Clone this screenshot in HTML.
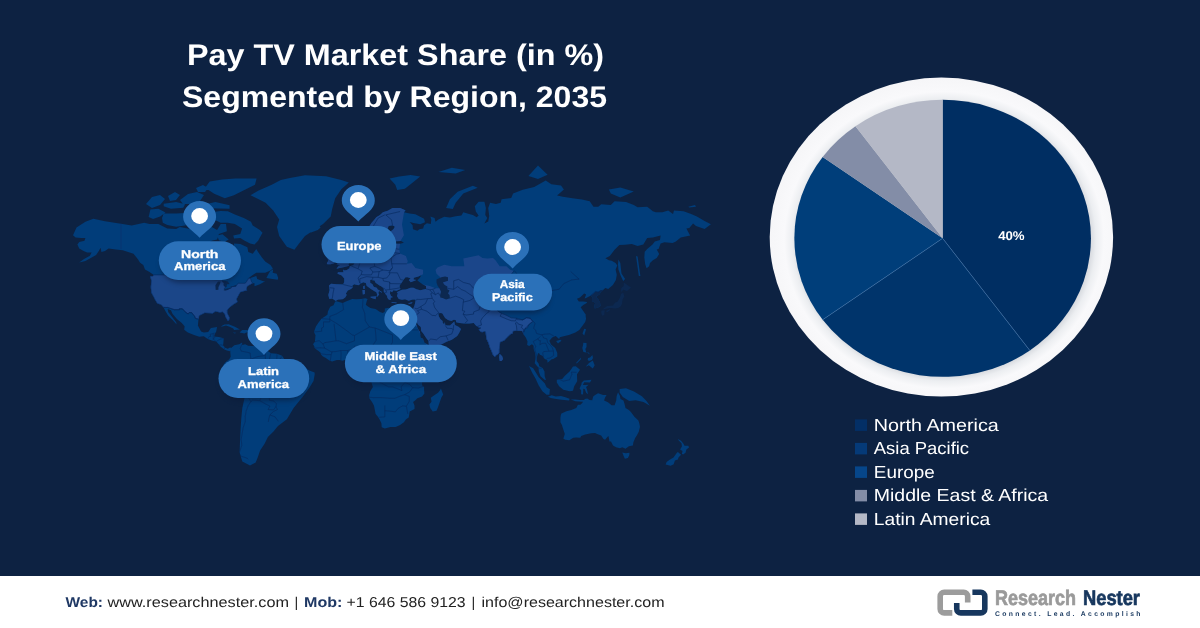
<!DOCTYPE html>
<html><head><meta charset="utf-8"><title>Pay TV Market Share</title>
<style>
html,body{margin:0;padding:0;background:#fff;}
body{width:1200px;height:628px;overflow:hidden;font-family:"Liberation Sans",sans-serif;}
svg{display:block;}
text{font-family:"Liberation Sans",sans-serif;text-rendering:geometricPrecision;}
svg{will-change:transform;}
</style></head><body>
<svg width="1200" height="628" viewBox="0 0 1200 628">
<defs>
<filter id="sh" color-interpolation-filters="sRGB" x="-20%" y="-30%" width="140%" height="180%"><feGaussianBlur stdDeviation="2.5"/></filter>
<filter id="blur1" color-interpolation-filters="sRGB"><feGaussianBlur stdDeviation="0.75"/></filter>
<radialGradient id="ring" cx="50.8%" cy="50.9%" r="50.6%">
<stop offset="0.83" stop-color="#cfd2d8"/><stop offset="0.875" stop-color="#eceef1"/><stop offset="0.92" stop-color="#f9f9fb"/><stop offset="1" stop-color="#f6f6f8"/>
</radialGradient>
</defs>
<rect x="0" y="0" width="1200" height="576" fill="#0d2242"/>
<rect x="0" y="576" width="1200" height="52" fill="#ffffff"/>
<clipPath id="landclip"><path d="M73.0,235.2 L76.5,227.6 L85.4,221.8 L93.4,218.8 L105.0,221.2 L121.0,223.8 L131.7,225.6 L144.2,222.7 L149.5,224.1 L158.4,224.1 L167.3,228.5 L176.2,229.0 L179.8,227.0 L190.4,229.0 L197.6,228.5 L201.1,229.9 L204.7,225.6 L202.9,218.1 L208.2,222.7 L211.8,227.0 L217.1,229.9 L220.7,224.1 L226.0,224.1 L226.9,231.3 L218.9,234.1 L217.1,239.4 L211.8,240.8 L206.5,244.6 L203.8,249.7 L203.8,252.9 L207.3,256.9 L215.4,258.1 L220.7,260.9 L225.5,261.6 L226.0,266.2 L227.8,268.4 L229.6,269.9 L231.4,269.5 L231.4,263.9 L234.9,259.3 L234.9,254.6 L233.2,249.7 L234.1,243.4 L240.3,243.9 L247.4,247.2 L248.3,252.1 L252.7,253.8 L256.3,248.9 L258.1,252.1 L261.6,256.9 L265.2,261.6 L270.5,265.0 L272.9,268.4 L270.5,270.6 L265.2,272.8 L256.3,272.8 L252.7,274.9 L247.4,279.1 L256.3,276.0 L257.2,279.1 L263.4,281.2 L265.2,281.2 L259.9,284.3 L254.5,286.3 L254.5,283.3 L252.7,283.3 L247.4,286.3 L246.5,289.3 L247.4,290.3 L243.8,291.3 L240.3,292.3 L237.6,297.2 L236.7,299.1 L237.6,301.9 L233.2,304.7 L229.6,307.5 L227.3,310.2 L227.3,313.0 L229.6,317.5 L229.1,320.5 L227.8,321.0 L225.2,316.6 L224.6,313.9 L222.5,312.1 L219.8,312.6 L215.4,311.5 L212.7,313.5 L210.0,313.3 L204.7,313.0 L199.3,315.7 L198.4,320.1 L197.9,325.4 L201.1,331.4 L203.8,332.6 L208.2,332.1 L210.9,328.0 L217.1,327.1 L216.2,331.4 L214.8,334.0 L214.1,336.6 L218.9,336.9 L223.7,338.3 L223.4,343.3 L223.0,345.3 L225.2,347.8 L227.8,348.7 L230.0,347.5 L234.1,348.8 L234.1,350.8 L232.3,349.2 L229.6,351.2 L226.9,350.5 L224.3,349.5 L220.7,346.7 L218.9,344.5 L216.2,341.6 L211.8,340.5 L207.7,338.9 L203.8,336.2 L199.3,336.7 L194.0,335.0 L187.8,332.6 L184.2,329.7 L184.6,326.3 L181.5,322.8 L177.1,319.2 L172.6,313.9 L170.9,310.2 L167.7,309.0 L168.2,312.1 L171.8,316.6 L176.2,322.2 L176.6,324.5 L172.6,320.1 L168.2,315.7 L165.5,311.2 L163.4,307.3 L161.1,304.7 L157.3,303.6 L154.8,299.4 L153.9,297.5 L151.3,292.7 L150.7,287.3 L151.3,280.8 L150.0,276.2 L153.1,276.0 L153.1,274.5 L149.5,272.1 L145.0,269.5 L143.3,265.0 L140.1,262.8 L137.9,259.3 L133.5,253.8 L128.1,252.1 L122.8,250.2 L115.7,249.4 L108.6,248.4 L105.0,250.9 L101.4,252.1 L100.6,247.7 L98.8,250.9 L96.1,255.0 L90.8,258.1 L85.4,260.9 L79.2,262.5 L83.6,259.3 L89.9,255.7 L91.6,252.6 L87.2,252.6 L83.6,250.9 L79.2,248.4 L77.4,244.6 L79.2,242.1 L84.5,240.8 L85.4,238.1 L81.0,238.1 L75.6,237.6Z M262.5,232.7 L258.1,240.8 L254.5,244.6 L250.1,243.4 L244.7,240.8 L240.3,238.1 L234.1,238.6 L233.2,235.4 L240.3,234.1 L242.1,228.5 L234.9,224.1 L227.8,222.7 L220.7,222.7 L214.5,219.7 L212.7,211.9 L220.7,210.9 L227.8,211.3 L234.9,214.4 L243.8,218.1 L251.0,221.8 L252.7,225.6 L259.9,229.9Z M162.0,218.1 L163.7,213.5 L176.2,213.5 L185.1,212.9 L191.3,222.7 L185.1,225.6 L176.2,226.8 L167.3,225.0 L162.8,222.7Z M148.6,216.9 L150.4,209.6 L158.4,208.7 L165.5,212.5 L160.2,216.6 L153.1,219.1Z M201.1,205.3 L215.4,201.9 L229.6,205.3 L229.6,208.7 L208.2,208.3Z M163.7,203.7 L176.2,201.9 L185.1,204.3 L183.3,207.7 L170.9,208.7 L163.7,206.3Z M186.9,201.9 L197.6,201.6 L199.3,207.0 L192.2,207.7Z M190.4,211.9 L199.3,210.9 L200.2,217.5 L194.0,218.1Z M201.1,210.3 L211.8,210.3 L210.0,215.1 L202.9,216.6Z M217.1,235.4 L222.5,234.3 L228.7,239.4 L224.3,242.1 L218.9,240.2Z M266.4,277.9 L272.3,279.1 L277.7,279.8 L278.2,277.9 L276.8,273.8 L272.7,272.8 L273.2,269.3 L270.0,271.2 L267.9,274.9Z M220.7,326.6 L224.3,324.5 L228.7,324.2 L234.9,326.8 L239.9,329.4 L234.1,329.9 L233.2,328.5 L229.6,326.8 L226.0,325.6 L222.5,326.4Z M239.6,332.5 L242.1,329.9 L247.4,330.1 L250.2,332.1 L246.5,332.6 L244.4,333.5Z M232.6,332.5 L236.2,332.8 L234.9,333.5Z M252.4,332.3 L255.2,332.5 L254.9,333.2 L252.4,333.2Z M230.3,348.8 L234.3,345.3 L239.2,344.2 L242.2,342.6 L242.2,345.0 L245.2,344.2 L248.2,345.8 L256.2,346.3 L261.2,345.5 L265.2,349.2 L271.1,353.3 L277.1,353.7 L282.1,355.8 L285.1,360.3 L285.1,363.3 L289.1,364.5 L296.1,367.4 L305.0,367.9 L310.0,370.8 L314.6,372.4 L314.7,374.6 L313.5,381.0 L309.2,388.0 L302.5,396.9 L293.6,408.0 L286.9,419.2 L278.0,425.9 L273.5,431.4 L267.9,437.0 L264.6,443.7 L260.1,450.4 L257.9,457.1 L255.7,462.6 L250.0,465.5 L242.3,461.5 L239.6,452.6 L240.0,441.5 L240.5,430.3 L241.2,419.2 L242.3,408.0 L244.5,398.0 L238.0,391.0 L232.3,385.8 L230.3,382.4 L227.3,376.6 L223.3,373.3 L222.7,370.4 L225.3,368.8 L223.3,365.0 L225.3,362.5 L227.3,360.8 L229.3,359.2 L230.7,356.7 L230.3,352.5 L230.3,350.8Z M329.3,298.9 L328.3,295.1 L329.6,290.0 L328.9,285.4 L331.2,283.8 L336.9,284.3 L343.1,284.5 L344.2,282.0 L344.2,278.5 L341.7,275.4 L337.5,273.7 L337.9,272.2 L343.4,272.2 L343.1,269.5 L344.6,270.5 L346.9,270.0 L349.4,268.3 L349.8,266.3 L353.2,265.3 L354.5,263.3 L355.7,261.2 L358.0,259.9 L360.3,259.4 L362.8,259.7 L363.2,257.3 L362.2,254.7 L362.2,250.7 L364.7,250.1 L366.6,248.8 L366.2,252.0 L365.6,254.7 L365.6,257.3 L367.6,258.6 L370.4,257.6 L373.3,258.6 L378.1,257.3 L381.9,256.6 L383.8,257.6 L386.7,256.0 L386.7,252.0 L387.7,249.3 L389.6,248.8 L392.5,250.7 L393.0,247.1 L391.5,244.6 L396.3,243.8 L400.1,243.8 L403.9,242.7 L401.1,241.0 L396.3,241.3 L390.5,242.7 L387.7,241.0 L387.3,236.6 L387.7,233.7 L393.4,229.2 L394.9,226.7 L392.5,225.2 L388.6,226.1 L387.3,229.8 L382.9,233.1 L379.6,238.1 L379.4,241.0 L382.5,243.0 L381.0,245.8 L378.5,248.5 L377.1,252.8 L374.3,253.4 L373.7,255.0 L371.4,255.0 L370.8,252.8 L369.1,249.3 L367.9,245.8 L366.6,243.8 L364.7,245.8 L361.8,247.7 L358.9,247.7 L357.0,245.2 L356.1,241.0 L356.1,236.6 L358.9,234.3 L362.8,232.2 L366.6,229.2 L369.5,226.1 L371.4,223.0 L374.3,219.8 L376.2,217.2 L380.0,214.9 L382.9,212.2 L387.7,210.8 L392.5,208.1 L396.3,208.1 L400.1,208.1 L405.9,210.5 L403.9,212.2 L409.7,213.5 L415.4,214.2 L424.1,218.8 L425.0,222.3 L420.2,224.2 L413.5,223.0 L409.7,222.0 L412.6,225.2 L413.0,229.2 L417.4,230.7 L419.3,229.2 L423.1,228.6 L424.1,225.2 L426.9,223.3 L430.8,223.9 L431.3,219.8 L430.4,216.5 L434.6,218.1 L435.5,221.7 L438.4,219.4 L444.2,216.8 L449.9,217.5 L455.7,216.2 L461.4,215.5 L463.3,212.2 L469.1,213.9 L472.9,214.9 L476.7,217.2 L478.6,215.5 L475.8,211.5 L474.8,206.3 L478.6,201.7 L484.4,201.7 L485.9,208.1 L485.3,214.9 L487.3,218.1 L484.4,223.6 L488.2,221.4 L489.2,215.9 L488.2,208.1 L490.1,202.8 L495.9,203.9 L500.7,202.8 L501.6,199.2 L511.2,198.1 L513.1,193.6 L522.7,189.8 L534.2,187.1 L545.7,180.4 L551.4,184.2 L561.0,185.4 L563.9,189.5 L557.1,195.5 L562.9,196.7 L572.5,198.2 L582.0,199.4 L589.7,201.3 L593.5,206.8 L598.3,206.8 L601.2,204.3 L610.8,205.0 L614.6,201.3 L626.1,202.0 L633.8,205.0 L637.6,207.2 L647.2,206.8 L652.9,211.2 L655.8,212.2 L662.5,212.2 L668.2,210.5 L673.0,214.0 L674.0,210.5 L683.5,211.2 L691.2,214.0 L696.9,216.4 L704.6,220.9 L710.9,224.2 L704.6,229.1 L696.0,225.9 L693.1,223.5 L689.3,228.1 L686.4,228.5 L689.3,233.9 L690.2,235.4 L680.7,237.6 L675.9,241.6 L672.6,243.1 L664.4,242.2 L660.6,243.4 L658.6,248.9 L656.7,249.5 L659.2,254.1 L656.7,258.0 L652.9,260.2 L650.0,262.9 L649.1,266.2 L646.6,268.3 L645.2,264.3 L644.3,257.5 L644.7,251.8 L647.2,248.9 L652.5,244.5 L654.8,241.6 L660.0,240.0 L660.6,235.4 L652.9,237.6 L647.2,237.9 L643.3,244.5 L637.6,246.0 L631.8,243.9 L625.1,244.8 L619.4,245.1 L614.6,249.8 L609.8,256.1 L605.4,258.3 L608.9,260.2 L611.7,260.8 L615.6,262.9 L617.3,265.6 L615.6,269.6 L616.8,274.8 L615.9,279.9 L612.9,284.9 L608.2,289.0 L605.3,288.0 L602.8,290.2 L600.9,292.1 L599.5,294.5 L596.7,296.2 L596.5,297.6 L598.2,299.2 L600.1,302.7 L600.5,306.1 L598.6,307.2 L594.7,308.6 L594.4,306.1 L595.1,302.7 L591.9,301.1 L592.3,296.9 L590.5,295.7 L586.1,298.0 L584.6,298.5 L586.1,294.5 L584.2,293.6 L580.0,297.6 L577.0,298.7 L578.8,301.5 L583.3,301.5 L587.1,302.0 L586.7,303.1 L583.3,305.0 L580.7,307.2 L582.9,310.6 L585.7,314.4 L585.7,316.6 L586.1,318.8 L585.2,322.1 L582.3,325.9 L579.3,330.0 L575.4,332.5 L568.9,334.9 L562.6,336.5 L559.8,337.2 L559.1,339.0 L555.7,336.1 L552.2,337.6 L549.4,340.7 L551.0,344.4 L555.2,347.9 L557.3,353.0 L557.3,356.5 L553.4,359.1 L551.7,359.3 L547.6,362.8 L547.2,360.1 L544.7,358.9 L542.4,355.7 L539.9,354.7 L539.0,353.0 L538.0,353.4 L536.7,357.7 L536.7,361.1 L538.6,363.6 L539.3,366.2 L541.4,367.2 L542.8,368.2 L544.5,371.6 L544.7,376.2 L546.0,380.1 L544.5,379.8 L540.5,376.2 L538.8,371.6 L538.6,367.6 L537.4,366.4 L534.7,363.2 L535.3,359.7 L535.5,356.4 L535.1,353.2 L533.6,348.8 L533.6,345.7 L531.9,344.3 L529.2,346.0 L527.1,345.0 L527.5,341.5 L525.9,337.7 L523.3,334.0 L522.3,331.1 L519.8,330.7 L516.9,330.8 L513.1,331.3 L512.7,333.5 L510.2,334.5 L506.4,338.2 L504.1,340.8 L500.3,342.1 L499.7,346.6 L499.3,349.8 L499.3,352.7 L497.8,354.6 L496.3,355.2 L494.9,356.9 L493.0,355.2 L491.1,350.4 L489.7,347.5 L488.2,342.7 L486.3,338.8 L485.9,335.5 L485.5,331.9 L485.0,331.3 L482.5,332.3 L480.6,331.9 L478.6,329.4 L480.9,328.0 L477.7,327.0 L475.4,325.0 L473.8,323.1 L469.1,323.5 L464.3,323.5 L459.5,323.1 L456.2,322.3 L455.7,320.1 L453.7,319.7 L451.3,320.9 L448.0,319.9 L445.1,318.1 L443.6,315.4 L442.2,313.3 L439.8,313.1 L438.4,314.1 L438.8,316.2 L440.3,318.9 L442.6,320.9 L442.8,322.9 L444.2,324.3 L444.9,321.9 L445.3,325.0 L447.0,325.6 L449.9,325.6 L452.4,323.3 L454.3,321.5 L454.9,325.0 L458.5,326.8 L461.0,329.0 L459.1,332.9 L457.2,335.9 L454.7,337.8 L451.8,339.8 L446.5,341.7 L440.3,345.0 L432.7,347.9 L429.8,348.1 L428.8,345.6 L428.5,341.1 L426.0,337.8 L423.1,333.3 L421.2,330.9 L420.8,327.0 L417.9,324.5 L416.8,321.9 L414.1,317.8 L413.5,314.8 L412.2,317.8 L410.8,316.8 L408.9,313.9 L408.4,311.2 L412.0,311.0 L413.3,308.5 L414.5,305.5 L415.4,301.5 L415.4,299.5 L412.6,299.5 L408.7,300.8 L405.1,299.3 L402.0,299.7 L398.8,298.9 L396.9,296.0 L397.8,293.4 L396.7,292.2 L399.2,291.1 L402.0,289.8 L405.9,289.5 L410.7,287.7 L413.5,287.7 L416.4,289.3 L420.2,290.2 L426.0,288.9 L426.0,286.1 L422.7,284.3 L419.3,282.0 L417.4,280.3 L419.3,278.5 L421.2,275.6 L418.3,276.6 L413.9,277.7 L413.5,279.4 L416.4,280.1 L414.5,280.8 L410.8,282.2 L408.7,279.9 L410.7,278.5 L407.8,277.3 L405.5,277.3 L403.4,280.1 L401.5,283.1 L399.9,285.0 L399.5,286.6 L400.5,288.9 L397.2,290.4 L396.3,290.7 L393.4,290.2 L392.1,292.2 L390.2,291.1 L390.0,293.8 L391.1,296.0 L392.5,296.7 L392.7,297.3 L390.7,297.8 L390.5,299.9 L389.2,299.7 L388.1,299.1 L387.1,297.1 L387.1,295.8 L386.1,294.9 L384.8,292.9 L383.7,291.6 L383.8,288.6 L381.9,286.8 L379.1,285.2 L375.6,282.7 L374.3,280.3 L372.5,280.6 L372.7,279.2 L370.2,279.9 L370.2,282.7 L372.5,284.3 L373.7,286.8 L377.3,288.0 L377.1,289.1 L381.9,292.0 L381.7,292.7 L379.1,291.1 L378.3,292.9 L379.2,294.5 L377.3,296.7 L376.6,296.7 L377.1,294.5 L376.4,292.2 L374.1,290.9 L370.2,288.4 L366.6,285.7 L365.8,283.1 L363.2,282.2 L360.9,283.6 L358.4,285.2 L354.2,284.3 L352.4,285.4 L352.6,287.7 L350.5,289.3 L347.8,290.4 L345.9,293.4 L346.7,295.1 L345.2,297.5 L342.7,299.3 L338.1,299.5 L335.8,301.0 L334.4,299.9 L332.3,298.4Z M336.5,268.8 L339.8,268.0 L344.6,267.0 L349.2,265.8 L348.4,264.3 L349.8,262.0 L347.1,261.2 L346.5,259.7 L344.2,257.1 L343.4,254.7 L342.3,253.4 L340.8,253.4 L342.7,249.1 L339.8,248.8 L338.8,248.5 L340.8,246.3 L336.9,246.3 L335.4,249.3 L335.8,252.6 L334.6,252.0 L336.5,255.0 L337.3,256.6 L340.0,256.3 L340.8,259.2 L340.4,260.5 L337.9,260.5 L338.5,262.5 L336.5,264.3 L340.4,265.3 L338.5,265.8Z M327.4,264.3 L330.8,264.3 L334.4,263.3 L335.0,260.5 L335.4,257.1 L334.4,255.5 L330.8,255.5 L330.2,257.6 L327.4,258.1 L328.3,260.7 L326.8,263.3Z M299.6,226.1 L304.4,223.3 L312.0,223.9 L318.7,224.5 L320.6,227.6 L317.8,230.1 L311.1,232.5 L303.4,231.3 L304.4,229.2 L300.5,227.9Z M618.4,259.4 L620.3,262.9 L620.9,268.3 L621.5,273.5 L625.1,279.1 L623.2,281.1 L620.8,276.1 L618.4,269.6 L618.0,264.3Z M636.0,256.1 L637.6,256.6 L640.4,276.1 L638.8,276.1Z M584.2,328.7 L586.1,329.2 L584.2,335.5 L582.5,333.4Z M556.1,341.1 L560.3,339.7 L561.5,340.7 L558.0,343.4Z M499.7,353.7 L502.2,356.2 L503.1,359.0 L501.6,360.9 L499.7,360.9 L499.1,357.1Z M529.0,366.1 L533.2,368.3 L538.6,377.1 L544.7,383.2 L546.6,387.2 L549.9,389.2 L549.4,394.8 L546.6,394.8 L542.4,391.2 L538.6,385.2 L535.5,378.4 L532.3,373.0Z M548.0,396.8 L551.7,395.2 L555.7,396.6 L561.0,396.0 L565.4,397.2 L569.6,398.8 L569.1,400.6 L561.5,399.8 L554.5,398.8 L550.8,398.0Z M570.7,399.6 L575.4,399.6 L580.0,400.0 L584.2,400.0 L588.0,399.8 L588.0,401.2 L582.3,401.7 L575.4,401.2Z M556.8,379.8 L562.2,379.0 L564.9,375.7 L569.6,371.6 L573.0,366.6 L575.8,366.2 L580.0,369.8 L577.0,374.3 L577.2,381.2 L574.2,386.2 L573.0,390.8 L569.6,391.2 L563.3,389.8 L559.1,386.2 L556.8,382.6Z M581.1,383.2 L583.8,380.4 L591.5,379.8 L590.0,382.4 L584.2,382.2 L582.9,385.0 L585.2,385.0 L588.6,384.8 L586.1,387.0 L587.1,389.8 L588.0,394.2 L586.1,392.8 L584.8,389.2 L583.3,388.8 L583.1,394.4 L581.1,394.2 L581.1,390.2 L579.5,388.6 L581.8,383.6Z M583.3,342.8 L586.5,343.0 L586.5,346.9 L585.4,349.0 L586.1,352.0 L590.0,354.5 L588.6,352.4 L586.1,352.6 L583.4,352.0 L582.3,347.9 L583.1,344.8Z M586.1,366.2 L589.0,363.0 L592.8,360.5 L594.7,365.2 L592.8,368.6 L590.0,366.2 L588.8,365.2 L586.5,366.4Z M588.0,358.1 L590.0,357.5 L592.4,355.1 L593.0,358.1 L591.9,360.1 L589.0,361.1 L587.7,360.1Z M575.8,363.2 L581.1,357.5 L580.7,359.5 L577.0,363.2Z M446.1,208.1 L449.9,199.2 L457.6,191.7 L472.9,185.8 L477.7,187.8 L463.3,193.6 L455.7,202.8 L452.8,209.1Z M528.4,175.9 L538.0,165.6 L547.6,174.7 L538.0,179.1Z M608.9,189.5 L620.3,187.5 L633.8,191.6 L620.3,197.5 L610.8,193.5Z M438.4,172.1 L451.8,167.7 L465.2,169.9 L455.7,173.4Z M688.3,206.8 L695.0,205.0 L696.0,206.8 L689.3,207.6Z M370.4,296.7 L376.2,296.2 L375.6,299.3 L370.8,297.8Z M362.4,290.0 L364.9,290.0 L364.9,294.0 L362.8,294.5Z M363.0,286.6 L364.7,285.4 L364.7,288.9 L363.4,288.9Z M391.5,302.1 L396.7,302.5 L396.3,303.2 L391.7,302.8Z M408.4,303.2 L412.6,301.9 L411.6,303.6 L408.7,304.0Z M561.4,413.5 L566.4,411.2 L571.3,410.0 L576.3,408.1 L577.9,404.8 L580.4,404.8 L582.2,402.9 L584.8,399.1 L587.2,398.5 L589.6,400.0 L592.2,400.2 L593.2,396.6 L594.7,395.3 L598.1,393.2 L603.1,395.1 L606.6,395.1 L605.1,397.6 L604.1,400.4 L608.0,402.3 L611.6,405.2 L614.6,405.2 L616.2,400.4 L616.6,396.2 L618.0,392.3 L619.9,395.7 L620.5,399.1 L623.5,400.4 L624.9,405.2 L625.5,407.9 L628.9,410.0 L630.9,411.9 L634.4,416.8 L638.4,420.4 L639.4,423.8 L640.0,426.8 L638.8,431.8 L636.8,435.6 L635.2,438.1 L633.4,442.3 L632.9,445.5 L628.9,446.3 L625.5,448.7 L622.3,447.2 L619.9,448.3 L616.0,447.2 L613.0,445.5 L611.0,441.6 L609.4,441.4 L609.0,438.7 L608.4,436.0 L607.0,437.4 L605.1,439.7 L603.5,439.1 L601.1,435.6 L597.1,433.9 L595.1,432.9 L591.2,433.3 L585.2,434.5 L581.2,436.0 L580.2,437.8 L576.3,437.6 L573.3,437.8 L569.3,440.2 L565.4,439.7 L563.4,438.7 L563.8,437.0 L564.8,433.9 L563.4,429.8 L561.8,424.8 L560.4,422.2 L560.4,417.8 L560.8,414.9Z M622.3,452.4 L625.9,453.3 L629.5,452.7 L629.3,455.3 L627.9,458.0 L624.9,458.7 L623.5,455.8Z M677.9,438.9 L681.1,440.8 L683.5,443.8 L684.5,445.7 L688.4,445.7 L689.0,447.6 L686.4,449.4 L685.5,452.7 L683.1,454.4 L681.9,453.8 L682.5,450.9 L680.1,449.4 L681.9,446.6 L681.5,443.3 L678.5,440.2Z M677.9,452.0 L681.1,454.7 L678.5,457.6 L677.9,459.4 L674.9,460.5 L673.7,464.2 L670.6,465.8 L665.6,464.4 L666.6,462.1 L669.6,459.8 L673.5,457.6 L675.1,455.3 L676.9,452.7Z M389.6,178.5 L399.1,176.4 L410.6,175.1 L420.2,176.4 L412.5,182.7 L404.9,188.8 L397.2,190.0 L395.3,184.8Z M408.9,313.9 L413.7,319.5 L417.0,326.0 L417.4,328.0 L419.9,331.9 L420.4,334.9 L420.8,337.4 L422.9,338.8 L424.6,342.7 L427.5,344.6 L427.9,347.1 L429.4,348.3 L429.2,349.5 L431.7,351.3 L435.5,350.8 L440.3,350.0 L444.5,348.8 L444.4,351.3 L442.2,355.5 L438.4,361.3 L434.6,364.6 L429.8,367.9 L426.0,371.6 L423.1,373.6 L422.1,376.9 L420.8,379.4 L422.1,381.9 L422.1,385.2 L424.1,386.9 L424.1,390.2 L424.4,393.6 L422.1,396.6 L417.4,398.3 L415.4,400.3 L413.1,402.1 L414.5,405.5 L414.5,409.0 L409.7,411.6 L409.3,414.2 L408.7,417.4 L405.9,419.6 L403.9,422.3 L400.1,425.1 L395.7,426.9 L390.5,426.9 L384.8,428.4 L381.7,427.3 L381.4,423.2 L379.6,419.6 L378.1,416.9 L375.6,413.9 L374.3,407.2 L373.9,405.5 L372.0,402.1 L369.5,398.6 L369.1,395.2 L370.4,391.0 L372.9,386.9 L371.8,383.5 L370.1,378.6 L369.5,376.9 L367.6,374.9 L364.7,372.8 L363.7,369.8 L364.7,367.0 L365.3,363.7 L364.7,362.1 L362.8,361.3 L359.9,361.4 L358.0,361.6 L356.1,359.1 L354.7,358.3 L351.3,358.3 L348.4,358.9 L344.6,360.1 L342.7,360.8 L339.8,360.1 L336.9,360.1 L332.1,361.4 L329.3,360.4 L325.8,358.0 L322.6,356.3 L321.0,354.5 L320.6,352.7 L318.2,350.8 L317.4,350.2 L314.5,348.1 L314.3,346.3 L313.0,344.3 L314.9,341.7 L315.3,336.9 L315.5,335.3 L313.9,331.9 L315.9,326.6 L318.2,322.9 L321.6,318.5 L324.5,316.8 L327.4,314.8 L327.9,311.6 L330.2,306.8 L333.5,305.3 L335.2,301.5 L336.4,301.2 L340.8,302.5 L342.7,303.0 L346.5,301.2 L352.2,299.1 L356.1,299.3 L360.9,298.9 L365.3,298.2 L367.6,298.9 L366.8,301.0 L365.8,304.7 L367.6,306.2 L370.4,307.9 L375.6,308.9 L380.0,311.9 L382.9,313.1 L384.8,311.6 L384.8,308.5 L388.6,307.7 L390.9,308.9 L394.4,310.2 L398.2,311.0 L402.0,311.9 L405.5,310.6 L408.4,311.2Z M440.9,388.5 L443.2,394.4 L441.3,397.8 L438.0,407.2 L436.5,410.7 L432.7,411.6 L430.2,408.1 L429.4,404.6 L431.5,401.7 L430.8,397.8 L434.6,394.9 L438.0,392.7 L440.0,390.2Z M289.8,177.9 L305,175.3 L326.1,176.3 L341.3,180.1 L348.8,182.4 L341.3,189.2 L335.2,198.3 L332.2,208.9 L330.7,216.4 L323.1,224 L314,230 L305,236.1 L298.9,243.7 L294.4,249.7 L286.8,246.7 L279.2,236.1 L277,227 L279.2,219.5 L273.2,210.4 L265.6,202.8 L256.6,198.3 L250.5,195.3 L258.1,190.7 L271.7,184.7 L280.8,180.1Z M209.7,181.6 L222,179.5 L235.4,178.6 L256.6,178.6 L255,184.7 L242.9,190.7 L233.9,195.3 L224.8,198.3 L214.2,193.7 L205.1,187.7Z M180,200 L188,194 L197,192 L204,195 L200,201 L190,204 L183,204Z M196,188 L203,185 L208,188 L205,192 L198,192Z M146,204 L152,197 L160,195 L165,199 L160,205 L152,208Z M168,196 L175,192 L180,195 L176,200 L170,201Z M619.6,389.1 L626,388.3 L634,391.5 L641.9,396.3 L646.5,401 L649.9,405.8 L643.5,401.9 L635.6,400.3 L629.2,401.1 L622.8,397.1 L619.6,392.5Z"/></clipPath>
<g id="map" filter="url(#blur1)">
<path d="M73.0,235.2 L76.5,227.6 L85.4,221.8 L93.4,218.8 L105.0,221.2 L121.0,223.8 L131.7,225.6 L144.2,222.7 L149.5,224.1 L158.4,224.1 L167.3,228.5 L176.2,229.0 L179.8,227.0 L190.4,229.0 L197.6,228.5 L201.1,229.9 L204.7,225.6 L202.9,218.1 L208.2,222.7 L211.8,227.0 L217.1,229.9 L220.7,224.1 L226.0,224.1 L226.9,231.3 L218.9,234.1 L217.1,239.4 L211.8,240.8 L206.5,244.6 L203.8,249.7 L203.8,252.9 L207.3,256.9 L215.4,258.1 L220.7,260.9 L225.5,261.6 L226.0,266.2 L227.8,268.4 L229.6,269.9 L231.4,269.5 L231.4,263.9 L234.9,259.3 L234.9,254.6 L233.2,249.7 L234.1,243.4 L240.3,243.9 L247.4,247.2 L248.3,252.1 L252.7,253.8 L256.3,248.9 L258.1,252.1 L261.6,256.9 L265.2,261.6 L270.5,265.0 L272.9,268.4 L270.5,270.6 L265.2,272.8 L256.3,272.8 L252.7,274.9 L247.4,279.1 L256.3,276.0 L257.2,279.1 L263.4,281.2 L265.2,281.2 L259.9,284.3 L254.5,286.3 L254.5,283.3 L252.7,283.3 L247.4,286.3 L246.5,289.3 L247.4,290.3 L243.8,291.3 L240.3,292.3 L237.6,297.2 L236.7,299.1 L237.6,301.9 L233.2,304.7 L229.6,307.5 L227.3,310.2 L227.3,313.0 L229.6,317.5 L229.1,320.5 L227.8,321.0 L225.2,316.6 L224.6,313.9 L222.5,312.1 L219.8,312.6 L215.4,311.5 L212.7,313.5 L210.0,313.3 L204.7,313.0 L199.3,315.7 L198.4,320.1 L197.9,325.4 L201.1,331.4 L203.8,332.6 L208.2,332.1 L210.9,328.0 L217.1,327.1 L216.2,331.4 L214.8,334.0 L214.1,336.6 L218.9,336.9 L223.7,338.3 L223.4,343.3 L223.0,345.3 L225.2,347.8 L227.8,348.7 L230.0,347.5 L234.1,348.8 L234.1,350.8 L232.3,349.2 L229.6,351.2 L226.9,350.5 L224.3,349.5 L220.7,346.7 L218.9,344.5 L216.2,341.6 L211.8,340.5 L207.7,338.9 L203.8,336.2 L199.3,336.7 L194.0,335.0 L187.8,332.6 L184.2,329.7 L184.6,326.3 L181.5,322.8 L177.1,319.2 L172.6,313.9 L170.9,310.2 L167.7,309.0 L168.2,312.1 L171.8,316.6 L176.2,322.2 L176.6,324.5 L172.6,320.1 L168.2,315.7 L165.5,311.2 L163.4,307.3 L161.1,304.7 L157.3,303.6 L154.8,299.4 L153.9,297.5 L151.3,292.7 L150.7,287.3 L151.3,280.8 L150.0,276.2 L153.1,276.0 L153.1,274.5 L149.5,272.1 L145.0,269.5 L143.3,265.0 L140.1,262.8 L137.9,259.3 L133.5,253.8 L128.1,252.1 L122.8,250.2 L115.7,249.4 L108.6,248.4 L105.0,250.9 L101.4,252.1 L100.6,247.7 L98.8,250.9 L96.1,255.0 L90.8,258.1 L85.4,260.9 L79.2,262.5 L83.6,259.3 L89.9,255.7 L91.6,252.6 L87.2,252.6 L83.6,250.9 L79.2,248.4 L77.4,244.6 L79.2,242.1 L84.5,240.8 L85.4,238.1 L81.0,238.1 L75.6,237.6Z M262.5,232.7 L258.1,240.8 L254.5,244.6 L250.1,243.4 L244.7,240.8 L240.3,238.1 L234.1,238.6 L233.2,235.4 L240.3,234.1 L242.1,228.5 L234.9,224.1 L227.8,222.7 L220.7,222.7 L214.5,219.7 L212.7,211.9 L220.7,210.9 L227.8,211.3 L234.9,214.4 L243.8,218.1 L251.0,221.8 L252.7,225.6 L259.9,229.9Z M162.0,218.1 L163.7,213.5 L176.2,213.5 L185.1,212.9 L191.3,222.7 L185.1,225.6 L176.2,226.8 L167.3,225.0 L162.8,222.7Z M148.6,216.9 L150.4,209.6 L158.4,208.7 L165.5,212.5 L160.2,216.6 L153.1,219.1Z M201.1,205.3 L215.4,201.9 L229.6,205.3 L229.6,208.7 L208.2,208.3Z M163.7,203.7 L176.2,201.9 L185.1,204.3 L183.3,207.7 L170.9,208.7 L163.7,206.3Z M186.9,201.9 L197.6,201.6 L199.3,207.0 L192.2,207.7Z M190.4,211.9 L199.3,210.9 L200.2,217.5 L194.0,218.1Z M201.1,210.3 L211.8,210.3 L210.0,215.1 L202.9,216.6Z M217.1,235.4 L222.5,234.3 L228.7,239.4 L224.3,242.1 L218.9,240.2Z M266.4,277.9 L272.3,279.1 L277.7,279.8 L278.2,277.9 L276.8,273.8 L272.7,272.8 L273.2,269.3 L270.0,271.2 L267.9,274.9Z M220.7,326.6 L224.3,324.5 L228.7,324.2 L234.9,326.8 L239.9,329.4 L234.1,329.9 L233.2,328.5 L229.6,326.8 L226.0,325.6 L222.5,326.4Z M239.6,332.5 L242.1,329.9 L247.4,330.1 L250.2,332.1 L246.5,332.6 L244.4,333.5Z M232.6,332.5 L236.2,332.8 L234.9,333.5Z M252.4,332.3 L255.2,332.5 L254.9,333.2 L252.4,333.2Z M230.3,348.8 L234.3,345.3 L239.2,344.2 L242.2,342.6 L242.2,345.0 L245.2,344.2 L248.2,345.8 L256.2,346.3 L261.2,345.5 L265.2,349.2 L271.1,353.3 L277.1,353.7 L282.1,355.8 L285.1,360.3 L285.1,363.3 L289.1,364.5 L296.1,367.4 L305.0,367.9 L310.0,370.8 L314.6,372.4 L314.7,374.6 L313.5,381.0 L309.2,388.0 L302.5,396.9 L293.6,408.0 L286.9,419.2 L278.0,425.9 L273.5,431.4 L267.9,437.0 L264.6,443.7 L260.1,450.4 L257.9,457.1 L255.7,462.6 L250.0,465.5 L242.3,461.5 L239.6,452.6 L240.0,441.5 L240.5,430.3 L241.2,419.2 L242.3,408.0 L244.5,398.0 L238.0,391.0 L232.3,385.8 L230.3,382.4 L227.3,376.6 L223.3,373.3 L222.7,370.4 L225.3,368.8 L223.3,365.0 L225.3,362.5 L227.3,360.8 L229.3,359.2 L230.7,356.7 L230.3,352.5 L230.3,350.8Z M329.3,298.9 L328.3,295.1 L329.6,290.0 L328.9,285.4 L331.2,283.8 L336.9,284.3 L343.1,284.5 L344.2,282.0 L344.2,278.5 L341.7,275.4 L337.5,273.7 L337.9,272.2 L343.4,272.2 L343.1,269.5 L344.6,270.5 L346.9,270.0 L349.4,268.3 L349.8,266.3 L353.2,265.3 L354.5,263.3 L355.7,261.2 L358.0,259.9 L360.3,259.4 L362.8,259.7 L363.2,257.3 L362.2,254.7 L362.2,250.7 L364.7,250.1 L366.6,248.8 L366.2,252.0 L365.6,254.7 L365.6,257.3 L367.6,258.6 L370.4,257.6 L373.3,258.6 L378.1,257.3 L381.9,256.6 L383.8,257.6 L386.7,256.0 L386.7,252.0 L387.7,249.3 L389.6,248.8 L392.5,250.7 L393.0,247.1 L391.5,244.6 L396.3,243.8 L400.1,243.8 L403.9,242.7 L401.1,241.0 L396.3,241.3 L390.5,242.7 L387.7,241.0 L387.3,236.6 L387.7,233.7 L393.4,229.2 L394.9,226.7 L392.5,225.2 L388.6,226.1 L387.3,229.8 L382.9,233.1 L379.6,238.1 L379.4,241.0 L382.5,243.0 L381.0,245.8 L378.5,248.5 L377.1,252.8 L374.3,253.4 L373.7,255.0 L371.4,255.0 L370.8,252.8 L369.1,249.3 L367.9,245.8 L366.6,243.8 L364.7,245.8 L361.8,247.7 L358.9,247.7 L357.0,245.2 L356.1,241.0 L356.1,236.6 L358.9,234.3 L362.8,232.2 L366.6,229.2 L369.5,226.1 L371.4,223.0 L374.3,219.8 L376.2,217.2 L380.0,214.9 L382.9,212.2 L387.7,210.8 L392.5,208.1 L396.3,208.1 L400.1,208.1 L405.9,210.5 L403.9,212.2 L409.7,213.5 L415.4,214.2 L424.1,218.8 L425.0,222.3 L420.2,224.2 L413.5,223.0 L409.7,222.0 L412.6,225.2 L413.0,229.2 L417.4,230.7 L419.3,229.2 L423.1,228.6 L424.1,225.2 L426.9,223.3 L430.8,223.9 L431.3,219.8 L430.4,216.5 L434.6,218.1 L435.5,221.7 L438.4,219.4 L444.2,216.8 L449.9,217.5 L455.7,216.2 L461.4,215.5 L463.3,212.2 L469.1,213.9 L472.9,214.9 L476.7,217.2 L478.6,215.5 L475.8,211.5 L474.8,206.3 L478.6,201.7 L484.4,201.7 L485.9,208.1 L485.3,214.9 L487.3,218.1 L484.4,223.6 L488.2,221.4 L489.2,215.9 L488.2,208.1 L490.1,202.8 L495.9,203.9 L500.7,202.8 L501.6,199.2 L511.2,198.1 L513.1,193.6 L522.7,189.8 L534.2,187.1 L545.7,180.4 L551.4,184.2 L561.0,185.4 L563.9,189.5 L557.1,195.5 L562.9,196.7 L572.5,198.2 L582.0,199.4 L589.7,201.3 L593.5,206.8 L598.3,206.8 L601.2,204.3 L610.8,205.0 L614.6,201.3 L626.1,202.0 L633.8,205.0 L637.6,207.2 L647.2,206.8 L652.9,211.2 L655.8,212.2 L662.5,212.2 L668.2,210.5 L673.0,214.0 L674.0,210.5 L683.5,211.2 L691.2,214.0 L696.9,216.4 L704.6,220.9 L710.9,224.2 L704.6,229.1 L696.0,225.9 L693.1,223.5 L689.3,228.1 L686.4,228.5 L689.3,233.9 L690.2,235.4 L680.7,237.6 L675.9,241.6 L672.6,243.1 L664.4,242.2 L660.6,243.4 L658.6,248.9 L656.7,249.5 L659.2,254.1 L656.7,258.0 L652.9,260.2 L650.0,262.9 L649.1,266.2 L646.6,268.3 L645.2,264.3 L644.3,257.5 L644.7,251.8 L647.2,248.9 L652.5,244.5 L654.8,241.6 L660.0,240.0 L660.6,235.4 L652.9,237.6 L647.2,237.9 L643.3,244.5 L637.6,246.0 L631.8,243.9 L625.1,244.8 L619.4,245.1 L614.6,249.8 L609.8,256.1 L605.4,258.3 L608.9,260.2 L611.7,260.8 L615.6,262.9 L617.3,265.6 L615.6,269.6 L616.8,274.8 L615.9,279.9 L612.9,284.9 L608.2,289.0 L605.3,288.0 L602.8,290.2 L600.9,292.1 L599.5,294.5 L596.7,296.2 L596.5,297.6 L598.2,299.2 L600.1,302.7 L600.5,306.1 L598.6,307.2 L594.7,308.6 L594.4,306.1 L595.1,302.7 L591.9,301.1 L592.3,296.9 L590.5,295.7 L586.1,298.0 L584.6,298.5 L586.1,294.5 L584.2,293.6 L580.0,297.6 L577.0,298.7 L578.8,301.5 L583.3,301.5 L587.1,302.0 L586.7,303.1 L583.3,305.0 L580.7,307.2 L582.9,310.6 L585.7,314.4 L585.7,316.6 L586.1,318.8 L585.2,322.1 L582.3,325.9 L579.3,330.0 L575.4,332.5 L568.9,334.9 L562.6,336.5 L559.8,337.2 L559.1,339.0 L555.7,336.1 L552.2,337.6 L549.4,340.7 L551.0,344.4 L555.2,347.9 L557.3,353.0 L557.3,356.5 L553.4,359.1 L551.7,359.3 L547.6,362.8 L547.2,360.1 L544.7,358.9 L542.4,355.7 L539.9,354.7 L539.0,353.0 L538.0,353.4 L536.7,357.7 L536.7,361.1 L538.6,363.6 L539.3,366.2 L541.4,367.2 L542.8,368.2 L544.5,371.6 L544.7,376.2 L546.0,380.1 L544.5,379.8 L540.5,376.2 L538.8,371.6 L538.6,367.6 L537.4,366.4 L534.7,363.2 L535.3,359.7 L535.5,356.4 L535.1,353.2 L533.6,348.8 L533.6,345.7 L531.9,344.3 L529.2,346.0 L527.1,345.0 L527.5,341.5 L525.9,337.7 L523.3,334.0 L522.3,331.1 L519.8,330.7 L516.9,330.8 L513.1,331.3 L512.7,333.5 L510.2,334.5 L506.4,338.2 L504.1,340.8 L500.3,342.1 L499.7,346.6 L499.3,349.8 L499.3,352.7 L497.8,354.6 L496.3,355.2 L494.9,356.9 L493.0,355.2 L491.1,350.4 L489.7,347.5 L488.2,342.7 L486.3,338.8 L485.9,335.5 L485.5,331.9 L485.0,331.3 L482.5,332.3 L480.6,331.9 L478.6,329.4 L480.9,328.0 L477.7,327.0 L475.4,325.0 L473.8,323.1 L469.1,323.5 L464.3,323.5 L459.5,323.1 L456.2,322.3 L455.7,320.1 L453.7,319.7 L451.3,320.9 L448.0,319.9 L445.1,318.1 L443.6,315.4 L442.2,313.3 L439.8,313.1 L438.4,314.1 L438.8,316.2 L440.3,318.9 L442.6,320.9 L442.8,322.9 L444.2,324.3 L444.9,321.9 L445.3,325.0 L447.0,325.6 L449.9,325.6 L452.4,323.3 L454.3,321.5 L454.9,325.0 L458.5,326.8 L461.0,329.0 L459.1,332.9 L457.2,335.9 L454.7,337.8 L451.8,339.8 L446.5,341.7 L440.3,345.0 L432.7,347.9 L429.8,348.1 L428.8,345.6 L428.5,341.1 L426.0,337.8 L423.1,333.3 L421.2,330.9 L420.8,327.0 L417.9,324.5 L416.8,321.9 L414.1,317.8 L413.5,314.8 L412.2,317.8 L410.8,316.8 L408.9,313.9 L408.4,311.2 L412.0,311.0 L413.3,308.5 L414.5,305.5 L415.4,301.5 L415.4,299.5 L412.6,299.5 L408.7,300.8 L405.1,299.3 L402.0,299.7 L398.8,298.9 L396.9,296.0 L397.8,293.4 L396.7,292.2 L399.2,291.1 L402.0,289.8 L405.9,289.5 L410.7,287.7 L413.5,287.7 L416.4,289.3 L420.2,290.2 L426.0,288.9 L426.0,286.1 L422.7,284.3 L419.3,282.0 L417.4,280.3 L419.3,278.5 L421.2,275.6 L418.3,276.6 L413.9,277.7 L413.5,279.4 L416.4,280.1 L414.5,280.8 L410.8,282.2 L408.7,279.9 L410.7,278.5 L407.8,277.3 L405.5,277.3 L403.4,280.1 L401.5,283.1 L399.9,285.0 L399.5,286.6 L400.5,288.9 L397.2,290.4 L396.3,290.7 L393.4,290.2 L392.1,292.2 L390.2,291.1 L390.0,293.8 L391.1,296.0 L392.5,296.7 L392.7,297.3 L390.7,297.8 L390.5,299.9 L389.2,299.7 L388.1,299.1 L387.1,297.1 L387.1,295.8 L386.1,294.9 L384.8,292.9 L383.7,291.6 L383.8,288.6 L381.9,286.8 L379.1,285.2 L375.6,282.7 L374.3,280.3 L372.5,280.6 L372.7,279.2 L370.2,279.9 L370.2,282.7 L372.5,284.3 L373.7,286.8 L377.3,288.0 L377.1,289.1 L381.9,292.0 L381.7,292.7 L379.1,291.1 L378.3,292.9 L379.2,294.5 L377.3,296.7 L376.6,296.7 L377.1,294.5 L376.4,292.2 L374.1,290.9 L370.2,288.4 L366.6,285.7 L365.8,283.1 L363.2,282.2 L360.9,283.6 L358.4,285.2 L354.2,284.3 L352.4,285.4 L352.6,287.7 L350.5,289.3 L347.8,290.4 L345.9,293.4 L346.7,295.1 L345.2,297.5 L342.7,299.3 L338.1,299.5 L335.8,301.0 L334.4,299.9 L332.3,298.4Z M336.5,268.8 L339.8,268.0 L344.6,267.0 L349.2,265.8 L348.4,264.3 L349.8,262.0 L347.1,261.2 L346.5,259.7 L344.2,257.1 L343.4,254.7 L342.3,253.4 L340.8,253.4 L342.7,249.1 L339.8,248.8 L338.8,248.5 L340.8,246.3 L336.9,246.3 L335.4,249.3 L335.8,252.6 L334.6,252.0 L336.5,255.0 L337.3,256.6 L340.0,256.3 L340.8,259.2 L340.4,260.5 L337.9,260.5 L338.5,262.5 L336.5,264.3 L340.4,265.3 L338.5,265.8Z M327.4,264.3 L330.8,264.3 L334.4,263.3 L335.0,260.5 L335.4,257.1 L334.4,255.5 L330.8,255.5 L330.2,257.6 L327.4,258.1 L328.3,260.7 L326.8,263.3Z M299.6,226.1 L304.4,223.3 L312.0,223.9 L318.7,224.5 L320.6,227.6 L317.8,230.1 L311.1,232.5 L303.4,231.3 L304.4,229.2 L300.5,227.9Z M618.4,259.4 L620.3,262.9 L620.9,268.3 L621.5,273.5 L625.1,279.1 L623.2,281.1 L620.8,276.1 L618.4,269.6 L618.0,264.3Z M636.0,256.1 L637.6,256.6 L640.4,276.1 L638.8,276.1Z M584.2,328.7 L586.1,329.2 L584.2,335.5 L582.5,333.4Z M556.1,341.1 L560.3,339.7 L561.5,340.7 L558.0,343.4Z M499.7,353.7 L502.2,356.2 L503.1,359.0 L501.6,360.9 L499.7,360.9 L499.1,357.1Z M529.0,366.1 L533.2,368.3 L538.6,377.1 L544.7,383.2 L546.6,387.2 L549.9,389.2 L549.4,394.8 L546.6,394.8 L542.4,391.2 L538.6,385.2 L535.5,378.4 L532.3,373.0Z M548.0,396.8 L551.7,395.2 L555.7,396.6 L561.0,396.0 L565.4,397.2 L569.6,398.8 L569.1,400.6 L561.5,399.8 L554.5,398.8 L550.8,398.0Z M570.7,399.6 L575.4,399.6 L580.0,400.0 L584.2,400.0 L588.0,399.8 L588.0,401.2 L582.3,401.7 L575.4,401.2Z M556.8,379.8 L562.2,379.0 L564.9,375.7 L569.6,371.6 L573.0,366.6 L575.8,366.2 L580.0,369.8 L577.0,374.3 L577.2,381.2 L574.2,386.2 L573.0,390.8 L569.6,391.2 L563.3,389.8 L559.1,386.2 L556.8,382.6Z M581.1,383.2 L583.8,380.4 L591.5,379.8 L590.0,382.4 L584.2,382.2 L582.9,385.0 L585.2,385.0 L588.6,384.8 L586.1,387.0 L587.1,389.8 L588.0,394.2 L586.1,392.8 L584.8,389.2 L583.3,388.8 L583.1,394.4 L581.1,394.2 L581.1,390.2 L579.5,388.6 L581.8,383.6Z M583.3,342.8 L586.5,343.0 L586.5,346.9 L585.4,349.0 L586.1,352.0 L590.0,354.5 L588.6,352.4 L586.1,352.6 L583.4,352.0 L582.3,347.9 L583.1,344.8Z M586.1,366.2 L589.0,363.0 L592.8,360.5 L594.7,365.2 L592.8,368.6 L590.0,366.2 L588.8,365.2 L586.5,366.4Z M588.0,358.1 L590.0,357.5 L592.4,355.1 L593.0,358.1 L591.9,360.1 L589.0,361.1 L587.7,360.1Z M575.8,363.2 L581.1,357.5 L580.7,359.5 L577.0,363.2Z M446.1,208.1 L449.9,199.2 L457.6,191.7 L472.9,185.8 L477.7,187.8 L463.3,193.6 L455.7,202.8 L452.8,209.1Z M528.4,175.9 L538.0,165.6 L547.6,174.7 L538.0,179.1Z M608.9,189.5 L620.3,187.5 L633.8,191.6 L620.3,197.5 L610.8,193.5Z M438.4,172.1 L451.8,167.7 L465.2,169.9 L455.7,173.4Z M688.3,206.8 L695.0,205.0 L696.0,206.8 L689.3,207.6Z M370.4,296.7 L376.2,296.2 L375.6,299.3 L370.8,297.8Z M362.4,290.0 L364.9,290.0 L364.9,294.0 L362.8,294.5Z M363.0,286.6 L364.7,285.4 L364.7,288.9 L363.4,288.9Z M391.5,302.1 L396.7,302.5 L396.3,303.2 L391.7,302.8Z M408.4,303.2 L412.6,301.9 L411.6,303.6 L408.7,304.0Z M561.4,413.5 L566.4,411.2 L571.3,410.0 L576.3,408.1 L577.9,404.8 L580.4,404.8 L582.2,402.9 L584.8,399.1 L587.2,398.5 L589.6,400.0 L592.2,400.2 L593.2,396.6 L594.7,395.3 L598.1,393.2 L603.1,395.1 L606.6,395.1 L605.1,397.6 L604.1,400.4 L608.0,402.3 L611.6,405.2 L614.6,405.2 L616.2,400.4 L616.6,396.2 L618.0,392.3 L619.9,395.7 L620.5,399.1 L623.5,400.4 L624.9,405.2 L625.5,407.9 L628.9,410.0 L630.9,411.9 L634.4,416.8 L638.4,420.4 L639.4,423.8 L640.0,426.8 L638.8,431.8 L636.8,435.6 L635.2,438.1 L633.4,442.3 L632.9,445.5 L628.9,446.3 L625.5,448.7 L622.3,447.2 L619.9,448.3 L616.0,447.2 L613.0,445.5 L611.0,441.6 L609.4,441.4 L609.0,438.7 L608.4,436.0 L607.0,437.4 L605.1,439.7 L603.5,439.1 L601.1,435.6 L597.1,433.9 L595.1,432.9 L591.2,433.3 L585.2,434.5 L581.2,436.0 L580.2,437.8 L576.3,437.6 L573.3,437.8 L569.3,440.2 L565.4,439.7 L563.4,438.7 L563.8,437.0 L564.8,433.9 L563.4,429.8 L561.8,424.8 L560.4,422.2 L560.4,417.8 L560.8,414.9Z M622.3,452.4 L625.9,453.3 L629.5,452.7 L629.3,455.3 L627.9,458.0 L624.9,458.7 L623.5,455.8Z M677.9,438.9 L681.1,440.8 L683.5,443.8 L684.5,445.7 L688.4,445.7 L689.0,447.6 L686.4,449.4 L685.5,452.7 L683.1,454.4 L681.9,453.8 L682.5,450.9 L680.1,449.4 L681.9,446.6 L681.5,443.3 L678.5,440.2Z M677.9,452.0 L681.1,454.7 L678.5,457.6 L677.9,459.4 L674.9,460.5 L673.7,464.2 L670.6,465.8 L665.6,464.4 L666.6,462.1 L669.6,459.8 L673.5,457.6 L675.1,455.3 L676.9,452.7Z M389.6,178.5 L399.1,176.4 L410.6,175.1 L420.2,176.4 L412.5,182.7 L404.9,188.8 L397.2,190.0 L395.3,184.8Z M408.9,313.9 L413.7,319.5 L417.0,326.0 L417.4,328.0 L419.9,331.9 L420.4,334.9 L420.8,337.4 L422.9,338.8 L424.6,342.7 L427.5,344.6 L427.9,347.1 L429.4,348.3 L429.2,349.5 L431.7,351.3 L435.5,350.8 L440.3,350.0 L444.5,348.8 L444.4,351.3 L442.2,355.5 L438.4,361.3 L434.6,364.6 L429.8,367.9 L426.0,371.6 L423.1,373.6 L422.1,376.9 L420.8,379.4 L422.1,381.9 L422.1,385.2 L424.1,386.9 L424.1,390.2 L424.4,393.6 L422.1,396.6 L417.4,398.3 L415.4,400.3 L413.1,402.1 L414.5,405.5 L414.5,409.0 L409.7,411.6 L409.3,414.2 L408.7,417.4 L405.9,419.6 L403.9,422.3 L400.1,425.1 L395.7,426.9 L390.5,426.9 L384.8,428.4 L381.7,427.3 L381.4,423.2 L379.6,419.6 L378.1,416.9 L375.6,413.9 L374.3,407.2 L373.9,405.5 L372.0,402.1 L369.5,398.6 L369.1,395.2 L370.4,391.0 L372.9,386.9 L371.8,383.5 L370.1,378.6 L369.5,376.9 L367.6,374.9 L364.7,372.8 L363.7,369.8 L364.7,367.0 L365.3,363.7 L364.7,362.1 L362.8,361.3 L359.9,361.4 L358.0,361.6 L356.1,359.1 L354.7,358.3 L351.3,358.3 L348.4,358.9 L344.6,360.1 L342.7,360.8 L339.8,360.1 L336.9,360.1 L332.1,361.4 L329.3,360.4 L325.8,358.0 L322.6,356.3 L321.0,354.5 L320.6,352.7 L318.2,350.8 L317.4,350.2 L314.5,348.1 L314.3,346.3 L313.0,344.3 L314.9,341.7 L315.3,336.9 L315.5,335.3 L313.9,331.9 L315.9,326.6 L318.2,322.9 L321.6,318.5 L324.5,316.8 L327.4,314.8 L327.9,311.6 L330.2,306.8 L333.5,305.3 L335.2,301.5 L336.4,301.2 L340.8,302.5 L342.7,303.0 L346.5,301.2 L352.2,299.1 L356.1,299.3 L360.9,298.9 L365.3,298.2 L367.6,298.9 L366.8,301.0 L365.8,304.7 L367.6,306.2 L370.4,307.9 L375.6,308.9 L380.0,311.9 L382.9,313.1 L384.8,311.6 L384.8,308.5 L388.6,307.7 L390.9,308.9 L394.4,310.2 L398.2,311.0 L402.0,311.9 L405.5,310.6 L408.4,311.2Z M440.9,388.5 L443.2,394.4 L441.3,397.8 L438.0,407.2 L436.5,410.7 L432.7,411.6 L430.2,408.1 L429.4,404.6 L431.5,401.7 L430.8,397.8 L434.6,394.9 L438.0,392.7 L440.0,390.2Z M289.8,177.9 L305,175.3 L326.1,176.3 L341.3,180.1 L348.8,182.4 L341.3,189.2 L335.2,198.3 L332.2,208.9 L330.7,216.4 L323.1,224 L314,230 L305,236.1 L298.9,243.7 L294.4,249.7 L286.8,246.7 L279.2,236.1 L277,227 L279.2,219.5 L273.2,210.4 L265.6,202.8 L256.6,198.3 L250.5,195.3 L258.1,190.7 L271.7,184.7 L280.8,180.1Z M209.7,181.6 L222,179.5 L235.4,178.6 L256.6,178.6 L255,184.7 L242.9,190.7 L233.9,195.3 L224.8,198.3 L214.2,193.7 L205.1,187.7Z M180,200 L188,194 L197,192 L204,195 L200,201 L190,204 L183,204Z M196,188 L203,185 L208,188 L205,192 L198,192Z M146,204 L152,197 L160,195 L165,199 L160,205 L152,208Z M168,196 L175,192 L180,195 L176,200 L170,201Z M619.6,389.1 L626,388.3 L634,391.5 L641.9,396.3 L646.5,401 L649.9,405.8 L643.5,401.9 L635.6,400.3 L629.2,401.1 L622.8,397.1 L619.6,392.5Z" fill="#013d7a" fill-rule="nonzero"/>
<path d="M317.8,313.7 L317.8,243.8 L340.8,241.0 L350.3,204.6 L407.8,204.6 L403.9,213.2 L402.0,224.5 L403.9,235.2 L400.1,241.5 L400.1,243.8 L399.2,249.3 L400.1,253.4 L405.9,256.0 L407.8,261.2 L406.8,263.8 L411.6,263.0 L415.4,268.0 L423.1,269.8 L423.1,274.2 L419.7,275.8 L417.4,278.5 L416.6,280.1 L419.3,283.1 L423.1,284.5 L429.8,286.1 L435.5,288.2 L439.4,288.2 L440.3,277.3 L436.5,273.7 L435.5,270.0 L437.5,267.5 L444.2,264.8 L451.8,266.3 L458.5,266.3 L464.3,266.3 L463.3,258.6 L478.6,255.2 L482.5,258.1 L487.3,258.6 L493.0,257.9 L495.7,260.5 L499.7,266.3 L506.4,266.3 L510.2,269.8 L513.7,270.8 L510.2,275.6 L505.4,275.6 L504.5,280.1 L500.7,280.8 L500.3,287.5 L492.0,291.1 L487.3,293.4 L489.9,298.4 L492.0,301.0 L495.9,302.1 L498.7,304.3 L496.8,308.5 L497.8,311.0 L501.6,313.3 L505.4,314.8 L511.2,317.8 L516.6,318.2 L522.7,319.9 L526.5,317.7 L530.3,318.3 L532.6,321.6 L530.7,322.9 L528.4,324.9 L527.5,327.8 L525.2,328.3 L523.6,332.0 L523.3,335.0 L522.7,345.8 L518.9,373.6 L461.4,362.8 L446.1,350.4 L429.4,348.5 L423.1,339.8 L418.3,329.9 L412.6,318.9 L408.7,313.7 L409.7,310.6 L403.9,306.4 L384.8,304.3 L367.6,297.1 L346.5,298.9 L335.0,301.1Z" fill="#1b468a" clip-path="url(#landclip)"/>
<path d="M477.1,326.6 L481.5,325.0 L480.6,320.9 L482.5,317.8 L486.3,313.7 L489.2,311.6 L488.2,307.4 L489.2,304.3 L492.0,301.0 L495.9,302.1 L498.7,304.3 L496.8,308.5 L497.8,311.0 L501.6,313.3 L500.1,316.2 L506.4,318.9 L511.2,320.7 L515.4,321.0 L516.6,318.2 L516.9,319.7 L522.7,319.9 L526.5,317.7 L530.3,318.3 L532.6,321.6 L530.7,322.9 L528.4,324.9 L527.5,327.8 L525.2,328.3 L523.6,332.0 L523.3,328.9 L521.3,327.4 L522.7,325.3 L518.5,324.1 L516.6,321.9 L515.4,323.0 L516.4,325.7 L516.9,330.4 L516.9,330.8 L513.1,331.3 L512.7,333.5 L510.2,334.5 L506.4,338.2 L504.1,340.8 L500.3,342.1 L499.7,346.6 L499.3,349.8 L499.3,352.7 L497.8,354.6 L496.3,355.2 L494.9,356.9 L493.0,355.2 L491.1,350.4 L489.7,347.5 L488.2,342.7 L486.3,338.8 L485.9,335.5 L485.5,331.9 L485.0,331.3 L482.5,332.3 L480.6,331.9 L478.6,329.4 L480.9,328.0 L477.7,327.0Z" fill="#214c94" opacity="0.6"/>
<path d="M436.5,279.6 L441.3,277.3 L445.1,276.6 L448.0,277.3 L448.0,280.8 L444.2,282.0 L442.8,282.4 L444.7,285.0 L447.4,286.6 L447.0,288.9 L449.5,290.4 L448.0,293.4 L449.5,294.9 L449.9,298.2 L446.1,299.5 L442.6,298.0 L440.3,297.5 L440.1,294.9 L441.1,291.8 L439.4,288.2 L437.5,285.4 L436.5,282.4Z" fill="#0c2850"/>
<path d="M590.5,295.7 L592.8,294.3 L595.5,291.4 L598.2,291.9 L600.9,290.0 L602.8,290.2 L600.9,292.1 L599.5,294.5 L596.7,296.2 L596.5,297.6 L598.2,299.2 L600.1,302.7 L600.5,306.1 L598.6,307.2 L594.7,308.6 L594.4,306.1 L595.1,302.7 L591.9,301.1 L592.3,296.9Z M603.2,309.5 L606.2,308.8 L611.0,308.1 L614.5,308.4 L618.3,307.9 L620.6,306.6 L622.1,303.8 L622.5,299.7 L624.4,296.4 L623.1,292.4 L621.0,294.0 L620.2,296.9 L617.7,301.5 L614.9,302.7 L612.9,305.4 L607.2,306.1 L603.4,308.4Z M621.0,292.1 L623.5,289.7 L626.9,290.9 L631.1,287.8 L628.8,286.1 L623.8,282.4 L623.7,286.1 L621.2,288.0Z M601.5,310.6 L604.7,310.2 L604.3,315.1 L602.0,315.7 L601.1,312.2Z M605.9,311.1 L610.1,309.0 L609.7,310.6 L607.2,312.2Z" fill="#0c2850"/>
<path d="M150.0,276.2 L153.1,276.0 L153.1,274.9 L202.5,274.9 L203.8,275.6 L208.2,276.4 L212.7,277.0 L214.5,276.6 L221.1,279.6 L221.9,280.4 L223.4,281.2 L225.2,282.7 L225.3,287.3 L224.3,288.9 L225.2,289.9 L231.4,287.7 L231.6,286.7 L235.8,286.3 L236.7,284.7 L238.5,283.3 L244.7,283.3 L246.0,282.5 L247.4,280.2 L248.8,278.3 L250.6,278.5 L251.3,281.2 L252.7,283.3 L247.4,286.3 L246.5,289.3 L247.4,290.3 L243.8,291.3 L240.3,292.3 L237.6,297.2 L236.7,299.1 L237.6,301.9 L233.2,304.7 L229.6,307.5 L227.3,310.2 L227.3,313.0 L229.6,317.5 L229.1,320.5 L227.8,321.0 L225.2,316.6 L224.6,313.9 L222.5,312.1 L219.8,312.6 L215.4,311.5 L212.7,313.5 L210.0,313.3 L204.7,313.0 L199.3,315.7 L198.8,319.2 L195.4,318.4 L194.5,316.2 L191.7,312.6 L189.2,312.6 L188.1,313.9 L185.6,312.3 L182.4,308.8 L179.4,308.8 L179.4,309.7 L174.4,309.7 L167.7,307.5 L163.4,307.3 L161.1,304.7 L157.3,303.6 L154.8,299.4 L153.9,297.5 L151.3,292.7 L150.7,287.3 L151.3,280.8Z" fill="#1b4688"/>
<path d="M208.2,279.8 L211.8,277.5 L214.5,275.3 L218.9,276.6 L221.2,279.1 L220.7,280.2 L216.2,280.2 L211.8,280.0Z M215.7,289.9 L215.4,285.3 L218.0,281.4 L220.7,281.6 L219.8,284.3 L218.4,287.3 L218.4,289.7Z M221.4,281.4 L224.3,280.8 L227.8,281.6 L229.6,284.1 L226.9,284.3 L226.6,286.9 L225.2,287.1 L223.4,285.3 L223.7,283.1Z M223.5,289.9 L225.2,289.1 L229.6,288.1 L231.6,287.7 L230.5,288.5 L226.9,290.3 L224.6,290.5Z M230.0,286.7 L233.2,285.9 L236.2,285.1 L236.2,286.3 L233.2,286.7 L230.8,286.9Z" fill="#0c2850"/>
<path d="M342.7,303.0 L343.6,309.6 L336.9,313.7 L329.8,316.4 L329.8,319.3 M321.6,318.5 L329.8,319.3 L329.8,321.9 L323.5,321.9 L323.5,327.0 L321.6,328.0 L321.6,331.3 L313.9,331.9 M329.8,319.3 L337.3,323.9 L348.4,331.9 L352.2,334.9 L354.5,335.5 L354.5,340.8 M334.1,323.9 L336.0,340.8 L324.5,342.7 L323.1,344.1 M363.0,299.1 L362.4,307.4 L364.7,313.1 L365.3,320.9 L369.5,327.0 M354.5,335.5 L369.5,327.0 M394.4,310.2 L394.4,329.9 M394.4,329.9 L419.7,329.9 M369.5,327.0 L375.2,328.0 L392.5,334.9 L392.5,342.3 M375.2,328.0 L376.2,340.2 L372.4,346.0 M353.4,349.3 L354.5,346.3 L359.9,347.1 L365.6,346.8 L372.4,346.0 M392.5,342.3 L389.6,347.1 L390.5,351.3 M418.9,345.0 L413.5,350.5 L409.7,355.5 L413.5,359.6 M428.8,349.7 L428.5,351.3 L438.4,355.5 L432.7,360.4 L426.7,362.2 M413.5,359.6 L415.4,361.4 L421.2,362.9 L426.7,362.2 M426.7,362.2 L425.0,368.7 L426.0,371.5 M411.6,370.3 L418.7,373.6 L421.6,376.4 M370.1,378.6 L378.1,378.4 L379.1,381.9 L388.6,386.9 L392.5,386.9 L399.2,389.4 L402.0,390.7 L401.1,386.9 L404.9,382.4 L402.0,375.3 L403.4,370.3 L405.9,365.1 L399.2,360.4 L389.6,361.8 L381.9,362.9 L380.6,369.5 L377.1,372.0 L376.8,375.3 L371.4,376.4 M369.1,397.3 L373.3,397.6 L381.0,397.6 L390.5,398.3 M384.8,405.5 L384.8,416.9 L379.1,417.3 M384.8,410.7 L390.5,411.2 L395.3,411.9 L398.2,408.3 L402.8,405.8 L406.4,406.2 M390.5,398.3 L394.9,398.3 L400.1,396.1 L404.7,394.6 L409.7,391.9 M404.7,394.6 L409.3,396.4 L409.3,401.2 L406.4,406.2 L407.8,413.9 M412.6,387.7 L418.3,388.0 L424.1,386.0 M404.9,382.4 L409.7,384.4 L412.6,387.7 L409.7,391.9 M403.4,370.3 L411.6,370.3 L413.5,359.6 M362.8,360.9 L365.6,357.1 L371.4,353.0 L374.3,348.3 L372.4,346.0 M374.3,348.3 L376.2,356.3 L374.3,360.4 L377.1,365.1 L372.0,365.1 L365.3,364.9 M376.2,356.3 L381.9,355.5 L390.5,351.3 L399.2,360.4 M390.5,351.3 L394.4,351.7 L400.1,353.3 L409.7,355.5 M340.8,360.3 L341.1,353.0 L340.9,350.5 M348.8,358.6 L347.5,350.5 M351.7,358.3 L353.4,349.3 M330.2,361.3 L331.2,354.6 L332.1,351.7 M336.0,351.5 L340.9,350.5 L347.5,350.5 L353.4,349.3 M336.0,340.8 L338.8,340.8 L346.5,343.7 L354.5,340.8 M323.1,344.1 L324.7,348.1 L331.2,351.8 L336.0,351.5 M314.9,341.7 L319.1,340.6 L323.1,344.1 M314.5,348.1 L320.3,347.8 L324.7,348.1 M321.0,353.8 L326.4,354.6 L331.2,354.6 M242.2,343.7 L240.2,348.3 L241.2,351.2 L245.2,351.8 L250.2,353.0 L250.8,359.2 L251.2,361.3 M227.3,360.8 L234.7,363.5 L245.2,370.3 M251.2,361.3 L245.2,361.6 L246.2,365.0 L245.2,370.3 M250.8,359.2 L257.2,356.7 L263.2,355.8 L265.2,354.7 L265.2,349.2 M265.2,354.7 L265.6,361.0 L269.1,360.8 L272.1,360.0 L277.1,359.7 L280.1,359.2 L281.9,356.3 M270.7,353.3 L269.1,360.8 M277.1,353.7 L276.7,359.7 M245.2,370.3 L239.2,375.4 L237.6,378.8 L244.2,379.1 L244.0,381.6 L246.2,381.6 M224.9,368.9 L227.3,371.6 L228.3,369.1 L234.7,363.5 M246.2,381.6 L247.8,384.1 L247.2,388.8 L246.2,392.6 L244.6,394.0 M246.2,381.6 L254.6,379.9 L255.2,383.3 L264.2,386.1 L265.2,390.5 L268.5,390.5 L270.1,393.4 L269.1,396.5 M269.1,396.5 L261.2,397.2 L259.8,400.7 L252.8,400.0 L250.8,401.7 L248.2,396.9 L246.2,392.6 M269.1,396.5 L269.5,400.3 L273.7,400.9 L276.5,403.8 L275.9,406.7 L273.5,409.9 L268.0,409.5 L269.9,406.1 L265.2,403.8 L259.8,400.7 M275.9,406.7 L277.5,409.5 L273.5,411.5 L269.9,414.9 L268.7,419.1 L268.4,421.9 M269.9,414.9 L275.1,416.9 L278.3,421.3 M250.8,401.7 L248.2,405.6 L246.2,410.9 L245.2,416.4 L245.2,421.9 L243.2,427.5 L242.2,433.3 L241.2,439.3 L241.8,445.4 L239.2,452.8 L240.6,456.0 L247.2,458.2 L248.2,459.3 M163.6,307.5 L167.7,307.5 L174.4,309.7 L179.4,309.7 L179.4,308.8 L182.4,308.8 L185.6,312.3 L188.1,313.9 L189.2,312.6 L191.7,312.6 L194.5,316.2 L195.4,318.4 L198.8,319.2 M207.7,338.9 L209.1,336.6 L210.9,336.4 L210.0,334.4 L213.2,333.5 L214.8,333.3 M213.2,333.5 L213.2,339.1 L215.7,341.1 M213.2,339.1 L215.0,337.1 M216.2,341.6 L218.0,340.3 L220.7,339.1 L223.7,338.3 M219.5,344.8 L221.6,345.0 L223.0,345.3 M224.3,349.5 L224.6,347.3 M343.1,284.5 L352.6,286.8 M351.3,266.0 L358.0,268.8 L362.2,271.2 L361.1,274.6 L358.0,278.0 L359.9,283.1 L360.9,283.6 M373.7,258.6 L374.7,266.3 L369.9,268.0 L372.9,272.0 L371.4,274.9 L364.9,274.9 L361.1,274.6 M383.8,257.6 L391.1,257.9 L391.7,263.8 L392.5,267.5 L390.0,270.8 L382.9,270.0 L379.1,268.0 L374.7,266.3 M359.9,283.1 L359.9,278.7 L366.6,276.6 L372.7,277.3 L372.7,279.2 M392.5,267.5 L389.0,272.7 L397.4,272.9 L400.5,279.6 L403.4,280.1 M391.7,263.8 L406.8,263.8 M372.7,277.3 L378.1,277.3 L382.9,278.5 L386.7,278.0 L390.0,273.9 L389.0,272.7 M382.9,278.5 L383.5,281.0 L389.6,282.0 L390.0,283.6 L401.1,283.8 M389.6,282.0 L389.6,289.5 L396.9,288.4 L400.1,287.7 M383.7,288.0 L385.8,290.0 L386.7,292.2 L384.8,292.9 M389.6,289.5 L385.8,290.0 M372.9,272.0 L379.1,271.7 L382.9,270.0 M379.1,271.7 L378.1,277.3 M358.0,259.9 L359.9,263.0 L358.0,268.8 M363.2,256.6 L364.7,256.6 M329.6,287.7 L334.1,288.2 L333.1,292.9 L332.3,298.4 M391.1,257.9 L396.3,254.2 L400.1,253.4 M386.7,253.1 L394.4,252.6 L400.1,253.4 M393.0,248.2 L399.2,249.3 M367.9,245.5 L369.9,239.5 L369.9,232.2 L374.3,224.5 L378.1,218.1 L384.8,214.9 M392.5,225.2 L391.5,219.8 L385.8,214.9 L395.9,212.5 L400.1,211.5 M447.0,288.2 L453.7,289.3 L453.7,280.8 L458.5,279.4 L463.3,282.4 L470.0,284.1 L472.9,287.7 L476.7,290.0 L481.5,287.3 L483.0,285.9 L487.3,285.4 L490.1,285.7 L498.2,285.9 L500.3,287.5 M449.7,298.2 L455.7,296.2 L460.1,297.8 L463.7,299.7 L463.3,302.1 M473.8,298.0 L473.8,296.7 L470.0,294.5 L465.2,291.1 L461.4,289.5 L457.6,286.6 L453.7,289.3 M476.7,290.0 L478.6,291.8 L481.5,290.4 L486.3,291.1 L487.8,293.4 L482.5,293.6 L476.3,293.4 L476.7,298.9 M487.8,293.4 L490.1,285.7 M463.3,302.1 L462.9,305.3 L462.4,310.6 L464.8,311.2 L463.1,314.1 L466.8,319.5 L467.5,320.7 L464.7,323.5 M439.6,313.7 L437.8,311.6 L434.6,307.4 L433.4,303.2 L434.6,301.5 L432.3,298.4 L430.8,293.6 L432.3,292.9 L435.5,294.7 L438.4,292.9 L440.1,295.8 M415.4,301.0 L416.8,299.3 L420.8,299.5 L427.7,298.6 L432.3,298.4 M427.7,298.6 L425.4,303.6 L420.8,306.6 L417.0,308.9 L414.7,308.1 M420.8,306.6 L421.6,309.3 L417.4,310.6 L419.3,312.7 L416.4,314.8 L413.5,314.8 M421.6,309.3 L426.9,311.2 L432.1,315.4 L435.5,315.6 L437.8,313.5 L439.6,313.7 M428.5,341.0 L430.8,339.0 L436.5,339.8 L440.3,336.7 L446.1,335.9 L451.8,333.9 L453.2,329.9 L452.2,328.6 L447.0,328.2 L445.3,325.4 M446.1,335.9 L448.2,340.4 M453.2,329.9 L453.7,325.0 M426.0,288.9 L429.8,289.8 L432.7,289.3 L435.5,288.2 M429.8,289.8 L432.3,292.9 M432.7,289.3 L435.5,294.7 M463.3,302.1 L467.1,301.2 L470.0,300.4 L473.8,298.0 L476.7,298.9 L483.4,296.0 L489.9,298.4 L483.6,300.2 L482.8,305.3 L479.6,307.2 L479.2,309.8 L473.7,311.9 L473.5,314.1 L466.2,315.0 L463.1,314.1 M514.6,270.8 L522.7,281.7 L530.3,288.0 L539.9,289.7 L547.6,291.4 L559.1,289.2 L563.8,283.6 L571.7,279.9 L579.1,279.1 L570.8,271.7 M500.3,287.5 L500.7,280.8 L504.5,280.1 L505.4,275.6 L510.2,275.6 L514.1,270.8 M500.3,287.5 L492.0,291.1 L487.3,293.4 L489.9,298.4 L492.0,301.0 L495.9,302.1 L498.7,304.3 L496.8,308.5 L497.8,311.0 L501.6,313.3 L505.4,314.8 L511.2,317.8 L516.6,318.2 L522.7,319.9 L526.5,317.7 L530.3,318.3 L533.0,321.2 L535.1,323.2 L533.6,328.2 L535.5,330.1 L536.5,333.4 L541.4,334.9 L542.0,334.7 L544.7,334.2 L549.9,333.8 L554.5,336.5 M535.1,359.3 L536.5,355.6 L534.6,349.0 L535.7,346.3 L533.2,341.5 L538.0,338.8 L540.3,336.5 M538.0,338.8 L539.0,340.7 L540.5,340.7 L539.9,344.8 L542.0,343.4 L545.7,343.2 L547.2,346.9 L549.0,351.2 L553.4,351.0 L553.6,355.5 L549.9,358.1 L547.6,358.3 L546.4,359.3 M542.0,334.7 L543.7,338.0 L546.8,338.8 L547.6,342.4 L552.2,347.3 L553.4,351.0 M549.0,351.2 L543.6,351.6 L542.6,353.0 L543.6,356.7 M523.1,333.9 L525.2,328.3 L527.9,325.8 L532.3,321.9 M538.2,367.2 L539.9,368.6 L542.0,367.8 M558.2,378.7 L563.3,381.2 L569.6,379.8 L571.9,374.3 L571.4,372.1 L576.5,372.4 M590.5,295.7 L595.5,291.4 L598.2,291.9 L602.8,290.2 M477.1,326.6 L481.5,325.0 L480.6,320.9 L482.5,317.8 L486.3,313.7 L489.2,311.6 L488.2,307.4 L489.2,304.3 L492.0,301.0 L495.9,302.1 L498.7,304.3 L496.8,308.5 L497.8,311.0 L501.6,313.3 L500.1,316.2 L506.4,318.9 L511.2,320.7 L515.4,321.0 L516.6,318.2 L516.9,319.7 L522.7,319.9 L526.5,317.7 L530.3,318.3 L532.6,321.6 L530.7,322.9 L528.4,324.9 L527.5,327.8 L525.2,328.3 L523.6,332.0 L523.3,328.9 L521.3,327.4 L522.7,325.3 L518.5,324.1 L516.6,321.9 L515.4,323.0 L516.4,325.7 L516.9,330.4 L516.9,330.8 L513.1,331.3 L512.7,333.5 L510.2,334.5 L506.4,338.2 L504.1,340.8 L500.3,342.1 L499.7,346.6 L499.3,349.8 L499.3,352.7 L497.8,354.6 L496.3,355.2 L494.9,356.9 L493.0,355.2 L491.1,350.4 L489.7,347.5 L488.2,342.7 L486.3,338.8 L485.9,335.5 L485.5,331.9 L485.0,331.3 L482.5,332.3 L480.6,331.9 L478.6,329.4 L480.9,328.0 L477.7,327.0Z M150.0,276.2 L153.1,276.0 L153.1,274.9 L202.5,274.9 L203.8,275.6 L208.2,276.4 L212.7,277.0 L214.5,276.6 L221.1,279.6 L221.9,280.4 L223.4,281.2 L225.2,282.7 L225.3,287.3 L224.3,288.9 L225.2,289.9 L231.4,287.7 L231.6,286.7 L235.8,286.3 L236.7,284.7 L238.5,283.3 L244.7,283.3 L246.0,282.5 L247.4,280.2 L248.8,278.3 L250.6,278.5 L251.3,281.2 L252.7,283.3 L247.4,286.3 L246.5,289.3 L247.4,290.3 L243.8,291.3 L240.3,292.3 L237.6,297.2 L236.7,299.1 L237.6,301.9 L233.2,304.7 L229.6,307.5 L227.3,310.2 L227.3,313.0 L229.6,317.5 L229.1,320.5 L227.8,321.0 L225.2,316.6 L224.6,313.9 L222.5,312.1 L219.8,312.6 L215.4,311.5 L212.7,313.5 L210.0,313.3 L204.7,313.0 L199.3,315.7 L198.8,319.2 L195.4,318.4 L194.5,316.2 L191.7,312.6 L189.2,312.6 L188.1,313.9 L185.6,312.3 L182.4,308.8 L179.4,308.8 L179.4,309.7 L174.4,309.7 L167.7,307.5 L163.4,307.3 L161.1,304.7 L157.3,303.6 L154.8,299.4 L153.9,297.5 L151.3,292.7 L150.7,287.3 L151.3,280.8Z" fill="none" stroke="#062a5e" stroke-width="0.9" opacity="0.7" stroke-linejoin="round" clip-path="url(#landclip)"/>
<path d="M121.0,223.8 L121.0,249.2" fill="none" stroke="#0a3470" stroke-width="0.8"/>
</g>
<rect x="160.8" y="246.2" width="78.2" height="36.8" rx="19.4" fill="#0a1a38" opacity="0.55" filter="url(#sh)"/><rect x="158.8" y="241.2" width="82.2" height="38.8" rx="19.4" fill="#2b71b9"/>
<path d="M199.60,237.70 C193.60,230.84 183.10,225.84 183.10,216.90 A16.50,15.80 0 1 1 216.10,216.90 C216.10,225.84 205.60,230.84 199.60,237.70Z" fill="#2b71b9"/><ellipse cx="199.6" cy="216.0" rx="8.4" ry="7.9" fill="#ffffff"/>
<text x="199.7" y="257.6" font-size="11.30" fill="#ffffff" font-weight="700" text-anchor="middle" textLength="37.4" lengthAdjust="spacingAndGlyphs" stroke="#ffffff" stroke-width="0.3">North</text>
<text x="199.7" y="270.4" font-size="11.30" fill="#ffffff" font-weight="700" text-anchor="middle" textLength="51.4" lengthAdjust="spacingAndGlyphs" stroke="#ffffff" stroke-width="0.3">America</text>
<rect x="323.5" y="230.9" width="70.8" height="35.4" rx="18.7" fill="#0a1a38" opacity="0.55" filter="url(#sh)"/><rect x="321.5" y="225.9" width="74.8" height="37.4" rx="18.7" fill="#2b71b9"/>
<path d="M358.30,221.50 C352.30,214.64 341.80,209.64 341.80,200.70 A16.50,15.80 0 1 1 374.80,200.70 C374.80,209.64 364.30,214.64 358.30,221.50Z" fill="#2b71b9"/><ellipse cx="358.3" cy="200.0" rx="8.4" ry="7.9" fill="#ffffff"/>
<text x="359.2" y="249.5" font-size="11.80" fill="#ffffff" font-weight="700" text-anchor="middle" textLength="44.6" lengthAdjust="spacingAndGlyphs" stroke="#ffffff" stroke-width="0.3">Europe</text>
<rect x="475.3" y="278.8" width="74.8" height="34.6" rx="18.3" fill="#0a1a38" opacity="0.55" filter="url(#sh)"/><rect x="473.3" y="273.8" width="78.8" height="36.6" rx="18.3" fill="#2b71b9"/>
<path d="M512.60,268.50 C506.60,261.64 496.10,256.64 496.10,247.70 A16.50,15.80 0 1 1 529.10,247.70 C529.10,256.64 518.60,261.64 512.60,268.50Z" fill="#2b71b9"/><ellipse cx="512.6" cy="247.0" rx="8.4" ry="7.9" fill="#ffffff"/>
<text x="512.2" y="288.4" font-size="11.30" fill="#ffffff" font-weight="700" text-anchor="middle" textLength="25.1" lengthAdjust="spacingAndGlyphs" stroke="#ffffff" stroke-width="0.3">Asia</text>
<text x="512.3" y="301.2" font-size="11.30" fill="#ffffff" font-weight="700" text-anchor="middle" textLength="40.8" lengthAdjust="spacingAndGlyphs" stroke="#ffffff" stroke-width="0.3">Pacific</text>
<rect x="220.5" y="364.0" width="86.7" height="36.9" rx="19.4" fill="#0a1a38" opacity="0.55" filter="url(#sh)"/><rect x="218.5" y="359.0" width="90.7" height="38.9" rx="19.4" fill="#2b71b9"/>
<path d="M264.00,354.90 C258.00,348.04 247.50,343.04 247.50,334.10 A16.50,15.80 0 1 1 280.50,334.10 C280.50,343.04 270.00,348.04 264.00,354.90Z" fill="#2b71b9"/><ellipse cx="264.0" cy="333.6" rx="8.4" ry="7.9" fill="#ffffff"/>
<text x="263.5" y="374.9" font-size="11.30" fill="#ffffff" font-weight="700" text-anchor="middle" textLength="31.0" lengthAdjust="spacingAndGlyphs" stroke="#ffffff" stroke-width="0.3">Latin</text>
<text x="263.3" y="387.7" font-size="11.30" fill="#ffffff" font-weight="700" text-anchor="middle" textLength="51.4" lengthAdjust="spacingAndGlyphs" stroke="#ffffff" stroke-width="0.3">America</text>
<rect x="346.9" y="349.7" width="107.9" height="35.6" rx="18.8" fill="#0a1a38" opacity="0.55" filter="url(#sh)"/><rect x="344.9" y="344.7" width="111.9" height="37.6" rx="18.8" fill="#2b71b9"/>
<path d="M400.80,339.90 C394.80,333.20 384.30,328.33 384.30,319.60 A16.50,15.80 0 1 1 417.30,319.60 C417.30,328.33 406.80,333.20 400.80,339.90Z" fill="#2b71b9"/><ellipse cx="400.8" cy="318.1" rx="8.4" ry="7.9" fill="#ffffff"/>
<text x="400.7" y="360.0" font-size="11.30" fill="#ffffff" font-weight="700" text-anchor="middle" textLength="72.5" lengthAdjust="spacingAndGlyphs" stroke="#ffffff" stroke-width="0.3">Middle East</text>
<text x="400.8" y="373.0" font-size="11.30" fill="#ffffff" font-weight="700" text-anchor="middle" textLength="50.5" lengthAdjust="spacingAndGlyphs" stroke="#ffffff" stroke-width="0.3">&amp; Africa</text>
<text x="395.5" y="65.1" font-size="29.80" fill="#ffffff" font-weight="700" text-anchor="middle" textLength="417.0" lengthAdjust="spacingAndGlyphs">Pay TV Market Share (in %)</text>
<text x="394.5" y="107.4" font-size="29.80" fill="#ffffff" font-weight="700" text-anchor="middle" textLength="425.0" lengthAdjust="spacingAndGlyphs">Segmented by Region, 2035</text>
<ellipse cx="941.4" cy="237.1" rx="171.7" ry="159.5" fill="url(#ring)"/>
<path d="M942.65,238.35 L942.65,99.85 A148.30,138.50 0 0 1 1029.82,350.40 Z" fill="#002e62"/>
<path d="M942.65,238.35 L1029.82,350.40 A148.30,138.50 0 0 1 822.67,319.76 Z" fill="#00346b"/>
<path d="M942.65,238.35 L822.67,319.76 A148.30,138.50 0 0 1 822.67,156.94 Z" fill="#003e7a"/>
<path d="M942.65,238.35 L822.67,156.94 A148.30,138.50 0 0 1 855.48,126.30 Z" fill="#838da7"/>
<path d="M942.65,238.35 L855.48,126.30 A148.30,138.50 0 0 1 942.65,99.85 Z" fill="#b4b8c6"/>
<line x1="942.65" y1="238.35" x2="1029.82" y2="350.40" stroke="#3f74ad" stroke-width="0.7" opacity="0.75"/>
<line x1="942.65" y1="238.35" x2="822.67" y2="319.76" stroke="#3f74ad" stroke-width="0.7" opacity="0.75"/>
<text x="1011.4" y="240.0" font-size="12.60" fill="#ffffff" font-weight="700" text-anchor="middle" textLength="26.5" lengthAdjust="spacingAndGlyphs">40%</text>
<rect x="855" y="419.4" width="12" height="11.5" fill="#032f66"/>
<text x="873.8" y="430.7" font-size="17.40" fill="#ffffff" text-anchor="start" textLength="125.0" lengthAdjust="spacingAndGlyphs">North America</text>
<rect x="855" y="442.9" width="12" height="11.5" fill="#053a78"/>
<text x="873.8" y="454.2" font-size="17.40" fill="#ffffff" text-anchor="start" textLength="95.3" lengthAdjust="spacingAndGlyphs">Asia Pacific</text>
<rect x="855" y="466.4" width="12" height="11.5" fill="#06468a"/>
<text x="873.8" y="477.7" font-size="17.40" fill="#ffffff" text-anchor="start" textLength="60.9" lengthAdjust="spacingAndGlyphs">Europe</text>
<rect x="855" y="489.9" width="12" height="11.5" fill="#838da7"/>
<text x="873.8" y="501.2" font-size="17.40" fill="#ffffff" text-anchor="start" textLength="174.4" lengthAdjust="spacingAndGlyphs">Middle East &amp; Africa</text>
<rect x="855" y="513.4" width="12" height="11.5" fill="#b4b8c6"/>
<text x="873.8" y="524.7" font-size="17.40" fill="#ffffff" text-anchor="start" textLength="116.4" lengthAdjust="spacingAndGlyphs">Latin America</text>
<text x="65.5" y="606.8" font-size="14.30" fill="#1f3864" font-weight="700" text-anchor="start" textLength="37.5" lengthAdjust="spacingAndGlyphs">Web:</text>
<text x="107.5" y="606.8" font-size="14.30" fill="#222222" text-anchor="start" textLength="181.5" lengthAdjust="spacingAndGlyphs">www.researchnester.com</text>
<text x="294.5" y="606.8" font-size="14.30" fill="#222222" text-anchor="start">|</text>
<text x="304.0" y="606.8" font-size="14.30" fill="#1f3864" font-weight="700" text-anchor="start" textLength="38.4" lengthAdjust="spacingAndGlyphs">Mob:</text>
<text x="346.5" y="606.8" font-size="14.30" fill="#222222" text-anchor="start" textLength="119.1" lengthAdjust="spacingAndGlyphs">+1 646 586 9123</text>
<text x="471.5" y="606.8" font-size="14.30" fill="#222222" text-anchor="start">|</text>
<text x="481.5" y="606.8" font-size="14.30" fill="#222222" text-anchor="start" textLength="183.0" lengthAdjust="spacingAndGlyphs">info@researchnester.com</text>
<path d="M952.3,612.9 H944.2 A4,4 0 0 1 940.2,608.9 V596.3 A4,4 0 0 1 944.2,592.3 H963.7 A4,4 0 0 1 967.7,596.3 V602.4" fill="none" stroke="#9c9c9c" stroke-width="5.6"/>
<path d="M972.4,592.3 H980.8 A4,4 0 0 1 984.8,596.3 V608.9 A4,4 0 0 1 980.8,612.9 H960.75 A4,4 0 0 1 956.75,608.9 V603" fill="none" stroke="#17375e" stroke-width="5.6"/>
<text x="995.0" y="604.8" font-size="21.00" fill="#9a9a9a" font-weight="700" text-anchor="start" textLength="81.0" lengthAdjust="spacingAndGlyphs" stroke="#9a9a9a" stroke-width="0.7">Research</text>
<text x="1083.0" y="604.8" font-size="21.00" fill="#17375e" font-weight="700" text-anchor="start" textLength="57.0" lengthAdjust="spacingAndGlyphs" stroke="#17375e" stroke-width="0.7">Nester</text>
<text x="995.0" y="616.2" font-size="6.80" fill="#17375e" font-weight="700" text-anchor="start" textLength="145.5" lengthAdjust="spacing">Connect. Lead. Accomplish</text>
</svg></body></html>
